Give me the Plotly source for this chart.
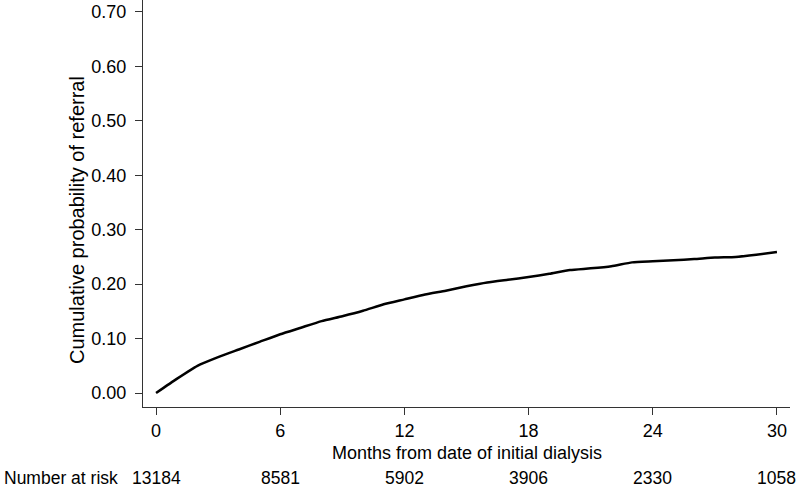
import plotly.graph_objects as go

# cumulative probability of referral
months = list(range(0, 31))
cum_prob = [0.000, 0.026, 0.050, 0.066, 0.080, 0.094, 0.108, 0.120, 0.132, 0.141,
            0.151, 0.163, 0.172, 0.181, 0.188, 0.196, 0.203, 0.208, 0.213, 0.219,
            0.226, 0.229, 0.233, 0.240, 0.242, 0.244, 0.246, 0.249, 0.250, 0.254,
            0.259]

# number at risk table
risk_months = [0, 6, 12, 18, 24, 30]
at_risk = [13184, 8581, 5902, 3906, 2330, 1058]

y_ticks = [0.0, 0.1, 0.2, 0.3, 0.4, 0.5, 0.6, 0.7]

FONT = "Liberation Sans, Arial, sans-serif"
AXIS_COLOR = "#333333"

# plot box in pixels (page is 798 x 488, body margin removed below)
FIG_W, FIG_H = 798, 488
PLOT_L, PLOT_R, PLOT_T, PLOT_B = 143, 790, 0, 407
PW, PH = PLOT_R - PLOT_L, PLOT_B - PLOT_T


def px(x):
    return (x - PLOT_L) / PW


def py(y):
    return (PLOT_B - y) / PH


fig = go.Figure()

fig.add_trace(
    go.Scatter(
        x=months,
        y=cum_prob,
        mode="lines",
        line=dict(color="black", width=2.5, shape="spline", smoothing=0.5),
        showlegend=False,
        hoverinfo="skip",
    )
)

annotations = []
for m, n in zip(risk_months, at_risk):
    annotations.append(dict(
        x=m, y=py(478), xref="x", yref="paper",
        text=str(n), showarrow=False,
        xanchor="center", yanchor="middle",
        font=dict(size=17.5, color="black", family=FONT),
    ))

annotations.append(dict(
    x=px(2), y=py(478), xref="paper", yref="paper",
    text="Number at risk", showarrow=False,
    xanchor="left", yanchor="middle",
    font=dict(size=17.5, color="black", family=FONT),
))

# x axis title
annotations.append(dict(
    x=0.5, y=py(453), xref="paper", yref="paper",
    text="Months from date of initial dialysis", showarrow=False,
    xanchor="center", yanchor="middle",
    font=dict(size=18, color="black", family=FONT),
))

# y axis title
annotations.append(dict(
    x=px(77), y=py(220), xref="paper", yref="paper",
    text="Cumulative probability of referral", showarrow=False,
    textangle=-90, xanchor="center", yanchor="middle",
    font=dict(size=20, color="black", family=FONT),
))

fig.update_layout(
    width=FIG_W,
    height=FIG_H,
    margin=dict(l=PLOT_L, r=FIG_W - PLOT_R, t=PLOT_T, b=FIG_H - PLOT_B),
    paper_bgcolor="white",
    plot_bgcolor="white",
    font=dict(family=FONT, size=18, color="black"),
    annotations=annotations,
    xaxis=dict(
        range=[-0.63, 30.63],
        tickvals=risk_months,
        ticks="outside",
        ticklen=7,
        tickwidth=1.3,
        tickcolor=AXIS_COLOR,
        showline=True,
        linecolor=AXIS_COLOR,
        linewidth=1.3,
        showgrid=False,
        zeroline=False,
        tickfont=dict(size=18, family=FONT, color="black"),
    ),
    yaxis=dict(
        range=[-0.0257, 0.722],
        tickvals=y_ticks,
        tickformat=".2f",
        ticks="outside",
        ticklen=7,
        tickwidth=1.3,
        tickcolor=AXIS_COLOR,
        showline=True,
        linecolor=AXIS_COLOR,
        linewidth=1.3,
        showgrid=False,
        zeroline=False,
        ticklabelstandoff=5,
        ticklabeloverflow="allow",
        tickfont=dict(size=18, family=FONT, color="black"),
    ),
)

fig.write_html(
    "out.html",
    config={"displayModeBar": False},
    post_script="document.body.style.margin='0';document.body.style.overflow='hidden';",
)
